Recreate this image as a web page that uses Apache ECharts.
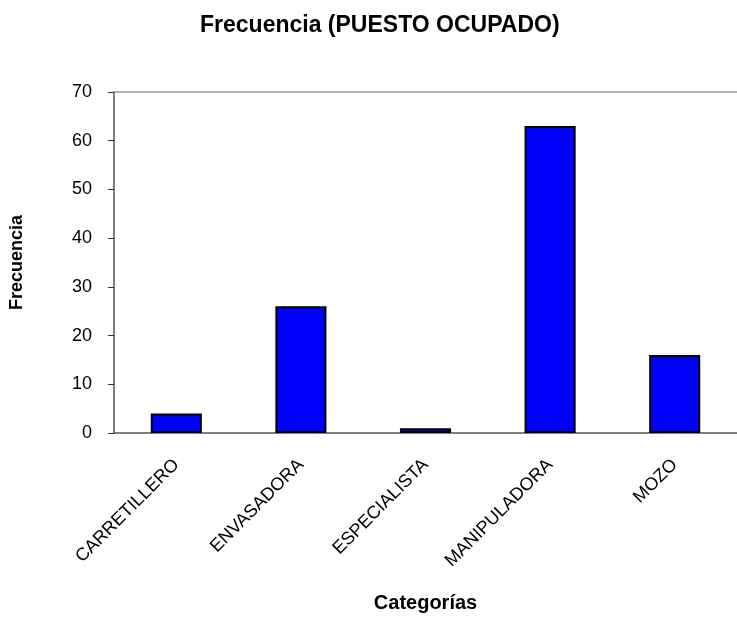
<!DOCTYPE html>
<html>
<head>
<meta charset="utf-8">
<script src="https://cdn.jsdelivr.net/npm/echarts@6/dist/echarts.min.js"></script>
<style>
    html, body { margin: 0; padding: 0; background: #fff; }
    #chart { width: 737px; height: 618px; }
</style>
</head>
<body>
<div id="chart"></div>
<script>
// categorias y frecuencias
const categorias = ['CARRETILLERO', 'ENVASADORA', 'ESPECIALISTA', 'MANIPULADORA', 'MOZO']
const frecuencias = [4, 26, 1, 63, 16]
const yTicks = { min: 0, max: 70, interval: 10 }

const font = '"Liberation Sans", Arial, sans-serif'
const chart = echarts.init(document.getElementById('chart'))
chart.setOption({
    animation: false,
    textStyle: { fontFamily: font },
    title: {
        text: 'Frecuencia (PUESTO OCUPADO)',
        left: 195,
        top: 9,
        textStyle: { fontFamily: font, fontWeight: 'bold', fontSize: 23, color: '#000' }
    },
    grid: { left: 109, right: 0, top: 92, bottom: 181, containLabel: false },
    xAxis: [
        {
            type: 'category',
            data: categorias,
            name: 'Categorías',
            nameLocation: 'middle',
            nameGap: 160,
            nameTextStyle: { fontFamily: font, fontWeight: 'bold', fontSize: 20, color: '#000' },
            axisLine: { lineStyle: { color: '#555', width: 1.5 } },
            axisTick: { show: false },
            axisLabel: { rotate: 45, interval: 0, fontSize: 18, color: '#000', margin: 29 }
        },
        {
            // borde superior del area de trazado
            type: 'category',
            data: categorias,
            position: 'top',
            axisLine: { lineStyle: { color: '#999', width: 1.5 } },
            axisTick: { show: false },
            axisLabel: { show: false }
        }
    ],
    yAxis: {
        type: 'value',
        min: yTicks.min,
        max: yTicks.max,
        interval: yTicks.interval,
        name: 'Frecuencia',
        nameLocation: 'middle',
        nameRotate: 90,
        nameGap: 88,
        nameTextStyle: { fontFamily: font, fontWeight: 'bold', fontSize: 18, color: '#000' },
        axisLine: { show: true, lineStyle: { color: '#555', width: 1.5 } },
        axisTick: { show: true, length: 6, lineStyle: { color: '#333' } },
        axisLabel: { fontSize: 18, color: '#000', margin: 22 },
        splitLine: { show: false }
    },
    series: [
        {
            name: 'Frecuencia',
            type: 'bar',
            barWidth: '41%',
            data: frecuencias,
            itemStyle: { color: '#0000FF', borderColor: '#000', borderWidth: 2 }
        }
    ]
})
</script>
</body>
</html>
